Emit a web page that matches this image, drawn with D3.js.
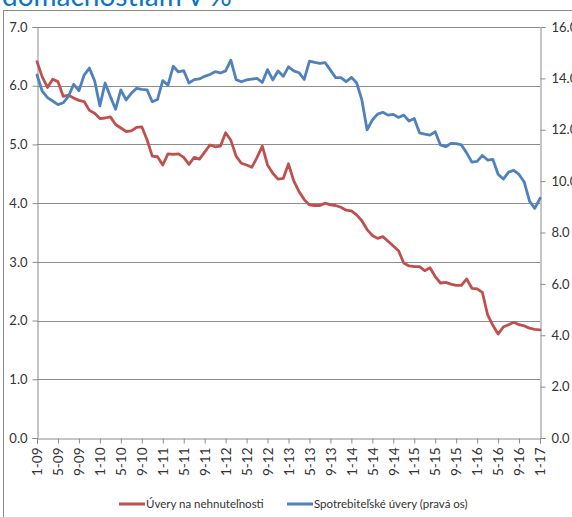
<!DOCTYPE html>
<html>
<head>
<meta charset="utf-8">
<script src="https://cdn.jsdelivr.net/npm/d3@7/dist/d3.min.js"></script>
<style>
  html, body { margin: 0; padding: 0; background: #fff; }
  svg { display: block; }
  text { font-family: "Lato", "Open Sans", sans-serif; fill: #333; }
</style>
</head>
<body>
<svg id="chart" width="572" height="517"></svg>
<script>
// ---- data ----
const months = [
  "1-09","2-09","3-09","4-09","5-09","6-09","7-09","8-09","9-09","10-09","11-09","12-09",
  "1-10","2-10","3-10","4-10","5-10","6-10","7-10","8-10","9-10","10-10","11-10","12-10",
  "1-11","2-11","3-11","4-11","5-11","6-11","7-11","8-11","9-11","10-11","11-11","12-11",
  "1-12","2-12","3-12","4-12","5-12","6-12","7-12","8-12","9-12","10-12","11-12","12-12",
  "1-13","2-13","3-13","4-13","5-13","6-13","7-13","8-13","9-13","10-13","11-13","12-13",
  "1-14","2-14","3-14","4-14","5-14","6-14","7-14","8-14","9-14","10-14","11-14","12-14",
  "1-15","2-15","3-15","4-15","5-15","6-15","7-15","8-15","9-15","10-15","11-15","12-15",
  "1-16","2-16","3-16","4-16","5-16","6-16","7-16","8-16","9-16","10-16","11-16","12-16",
  "1-17"
];
const tickLabels = ["1-09","5-09","9-09","1-10","5-10","9-10","1-11","5-11","9-11","1-12","5-12","9-12",
  "1-13","5-13","9-13","1-14","5-14","9-14","1-15","5-15","9-15","1-16","5-16","9-16","1-17"];
const leftTicks = [0,1,2,3,4,5,6,7];
const rightTicks = [0,2,4,6,8,10,12,14,16];

// Úvery na nehnuteľnosti (left axis)
const mortgage = [
  6.41,6.15,5.97,6.11,6.07,5.82,5.84,5.79,5.75,5.73,5.58,5.53,
  5.44,5.45,5.47,5.34,5.28,5.22,5.23,5.29,5.30,5.08,4.80,4.79,
  4.65,4.84,4.83,4.84,4.78,4.66,4.78,4.75,4.87,4.99,4.96,4.97,
  5.20,5.07,4.80,4.68,4.65,4.61,4.78,4.97,4.65,4.51,4.41,4.42,
  4.67,4.38,4.20,4.06,3.97,3.96,3.96,4.00,3.97,3.96,3.93,3.88,
  3.87,3.80,3.70,3.55,3.45,3.40,3.43,3.35,3.27,3.19,2.98,2.93,
  2.92,2.92,2.85,2.90,2.75,2.64,2.65,2.62,2.60,2.60,2.71,2.55,
  2.54,2.48,2.10,1.92,1.77,1.89,1.93,1.97,1.93,1.91,1.87,1.85,
  1.84
];
// Spotrebiteľské úvery (right axis)
const consumer = [
  14.13,13.50,13.25,13.12,12.98,13.05,13.30,13.77,13.52,14.13,14.40,13.91,
  12.93,13.82,13.29,12.80,13.55,13.16,13.42,13.61,13.57,13.55,13.09,13.18,
  13.91,13.74,14.47,14.25,14.30,13.82,13.95,13.98,14.08,14.15,14.26,14.21,
  14.29,14.71,13.95,13.87,13.94,13.97,14.00,13.84,14.34,13.94,14.29,14.08,
  14.45,14.29,14.22,13.96,14.67,14.62,14.58,14.61,14.32,14.03,14.03,13.87,
  14.04,13.83,13.16,12.00,12.38,12.61,12.68,12.57,12.60,12.48,12.57,12.34,
  12.44,11.88,11.83,11.79,11.92,11.41,11.34,11.47,11.46,11.41,11.10,10.74,
  10.77,11.00,10.82,10.85,10.27,10.08,10.35,10.42,10.26,9.96,9.22,8.94,
  9.33
];
const seriesNames = ["Úvery na nehnuteľnosti", "Spotrebiteľské úvery (pravá os)"];
const seriesColors = ["#C0504D", "#4F81BD"];

// ---- drawing ----
const svg = d3.select("#chart");
const X0 = 37, X1 = 540, Y0 = 438, Y1 = 27;
const gridColor = "#8c8c8c";

// frame & clipped title
svg.append("rect").attr("x", 3.5).attr("y", 10.5).attr("width", 580).attr("height", 520)
  .attr("fill", "none").attr("stroke", "#8c8c8c").attr("stroke-width", 1);
svg.append("text").attr("x", 2).attr("y", 6).text("domácnostiam v %")
  .style("font-size", "28px").style("fill", "#0B74C8");

const x = d3.scalePoint().domain(months).range([X0, X1]);
const yL = d3.scaleLinear().domain([0, 7]).range([Y0, Y1]);
const yR = d3.scaleLinear().domain([0, 16]).range([Y0, Y1]);

// gridlines
svg.append("g").selectAll("line").data(leftTicks.filter(d => d > 0)).join("line")
  .attr("x1", X0).attr("x2", X1)
  .attr("y1", d => Math.round(yL(d)) + 0.5).attr("y2", d => Math.round(yL(d)) + 0.5)
  .attr("stroke", gridColor).attr("stroke-width", 1);

function styleAxis(g) {
  g.selectAll(".domain").attr("stroke", gridColor);
  g.selectAll(".tick line").attr("stroke", gridColor);
  g.selectAll("text").style("fill", "#333");
}

const axL = svg.append("g").attr("transform", `translate(${X0 + 0.5},0)`)
  .call(d3.axisLeft(yL).tickValues(leftTicks).tickFormat(d3.format(".1f")).tickSizeOuter(0).tickSize(5).tickPadding(5));
axL.selectAll("text").style("font-size", "13px").style("font-family", "Lato, sans-serif");
styleAxis(axL);

const axR = svg.append("g").attr("transform", `translate(${X1 + 0.5},0)`)
  .call(d3.axisRight(yR).tickValues(rightTicks).tickFormat(d3.format(".1f")).tickSizeOuter(0).tickSize(5).tickPadding(6));
axR.selectAll("text").style("font-size", "13px").style("font-family", "Lato, sans-serif");
styleAxis(axR);

const axB = svg.append("g").attr("transform", `translate(0,${Y0 + 0.5})`)
  .call(d3.axisBottom(x).tickValues(tickLabels).tickSizeOuter(0).tickSize(5).tickPadding(6));
axB.selectAll("text")
  .attr("transform", "rotate(-90)")
  .attr("text-anchor", "end")
  .attr("x", -9).attr("y", 0).attr("dy", "0.35em")
  .style("font-size", "13.5px").style("font-family", "Lato, sans-serif");
styleAxis(axB);

// lines
const lineL = d3.line().x((d, i) => x(months[i])).y(d => yL(d));
const lineR = d3.line().x((d, i) => x(months[i])).y(d => yR(d));
svg.append("path").datum(mortgage).attr("d", lineL)
  .attr("fill", "none").attr("stroke", seriesColors[0]).attr("stroke-width", 2.8)
  .attr("stroke-linejoin", "round").attr("stroke-linecap", "round");
svg.append("path").datum(consumer).attr("d", lineR)
  .attr("fill", "none").attr("stroke", seriesColors[1]).attr("stroke-width", 2.8)
  .attr("stroke-linejoin", "round").attr("stroke-linecap", "round");

// legend
const legendItems = [
  { name: seriesNames[0], color: seriesColors[0], x: 119 },
  { name: seriesNames[1], color: seriesColors[1], x: 287 }
];
const lg = svg.append("g");
legendItems.forEach(it => {
  lg.append("line").attr("x1", it.x).attr("x2", it.x + 26).attr("y1", 504).attr("y2", 504)
    .attr("stroke", it.color).attr("stroke-width", 3);
  lg.append("text").attr("x", it.x + 27).attr("y", 504).attr("dy", "0.35em")
    .text(it.name).style("font-size", "11.5px").style("font-family", "Lato, sans-serif");
});
</script>
</body>
</html>
